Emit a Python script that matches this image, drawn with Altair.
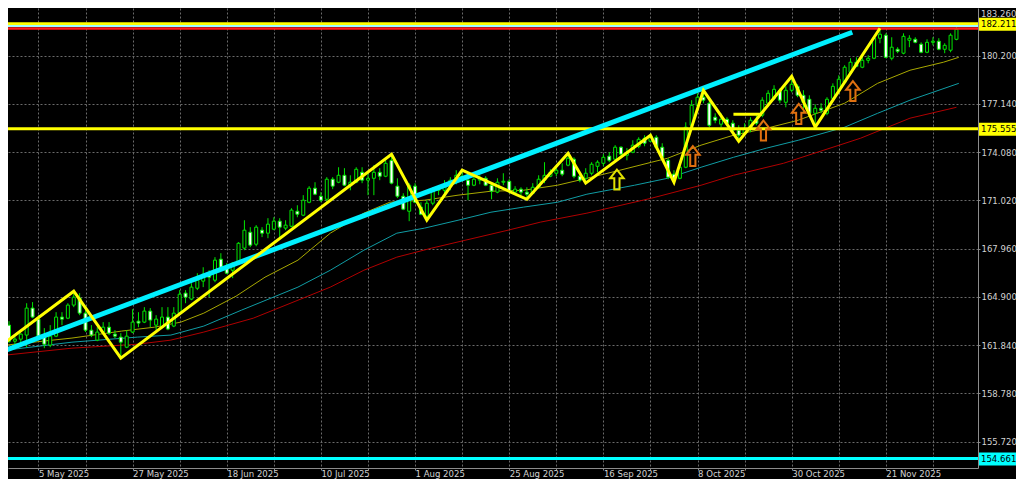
import altair as alt
import pandas as pd

# ---------------- data ----------------
OPEN = [163.11,162.09,162.22,162.48,164.19,163.49,162.41,161.84,162.41,163.62,
        163.55,164.38,164.82,163.87,162.79,162.16,162.67,162.98,162.54,162.35,
        161.71,162.67,163.36,163.30,164.00,163.11,162.98,163.62,163.05,163.87,
        165.14,164.76,165.45,165.90,166.40,165.96,167.29,166.72,166.59,167.10,
        167.99,169.00,168.24,169.13,168.94,169.19,169.70,169.26,169.38,170.33,
        170.08,170.90,171.79,171.28,171.09,172.36,172.17,172.61,171.98,172.17,
        172.80,172.30,172.42,172.80,172.55,173.56,171.92,171.28,170.33,171.92,
        170.59,170.02,170.84,171.66,171.66,171.92,172.30,172.55,172.30,171.98,
        172.30,172.42,171.98,171.54,172.17,172.23,171.54,171.73,171.54,171.47,
        171.85,172.30,172.55,172.74,172.93,173.25,173.63,172.55,172.42,172.74,
        173.18,173.37,173.82,173.63,174.39,173.88,174.07,174.45,174.96,174.77,
        175.02,174.39,173.56,172.68,172.42,173.12,175.78,177.05,177.56,177.18,
        176.29,175.85,176.16,175.91,175.47,175.28,175.59,176.10,176.42,177.18,
        177.49,178.00,177.24,178.00,178.25,177.68,177.43,176.54,176.86,176.54,
        177.49,178.00,178.51,179.14,179.78,179.46,179.90,180.03,181.30,181.49,
        180.03,180.60,180.35,181.17,181.23,180.92,180.41,181.04,181.11,180.60,
        180.54,181.23]
CLOSE = [162.09,162.22,162.54,164.19,163.62,162.41,161.90,162.41,163.62,163.49,
         164.38,164.88,163.87,162.79,162.48,162.67,162.98,162.60,162.41,162.03,
         162.41,163.30,163.24,164.00,163.43,163.49,163.62,162.86,163.87,165.07,
         164.88,165.52,165.96,166.34,166.15,167.23,166.78,166.40,167.04,168.30,
         169.13,168.18,169.32,168.94,169.51,169.70,169.32,169.45,170.40,170.14,
         171.03,171.79,171.41,171.03,172.36,171.92,172.61,171.98,172.17,172.99,
         172.30,172.42,172.80,172.55,173.37,172.11,171.28,170.46,171.98,170.90,
         170.14,170.84,171.73,171.73,171.98,172.30,172.61,172.30,171.98,172.36,
         172.42,171.98,171.60,172.17,172.23,171.60,171.73,171.54,171.41,171.85,
         172.36,172.61,172.80,172.93,172.68,173.69,172.55,172.30,172.74,173.31,
         173.44,173.75,173.56,174.39,173.95,174.07,174.52,174.89,174.64,175.09,
         174.39,173.75,172.49,172.42,173.12,175.66,177.05,177.56,177.37,175.78,
         176.10,176.16,175.91,175.47,175.15,175.59,176.10,175.91,177.37,177.81,
         178.06,177.37,178.00,178.38,177.68,177.24,176.54,176.86,176.73,177.43,
         178.25,178.70,179.46,179.78,179.52,179.90,180.03,181.30,181.55,180.09,
         180.73,180.47,181.42,181.30,181.04,180.41,181.04,181.11,180.60,180.85,
         181.49,181.87]
HIGH = [163.36,162.35,162.60,164.50,164.57,163.74,162.92,163.11,163.93,163.93,
        164.50,165.26,165.14,164.06,163.11,162.98,163.30,163.30,162.79,162.60,
        162.79,164.12,163.93,164.25,164.19,163.74,164.25,164.25,164.25,165.33,
        165.33,165.77,166.40,166.78,166.59,167.42,167.67,167.04,167.10,168.37,
        169.76,169.32,169.45,169.32,169.89,169.95,169.89,169.76,170.52,170.71,
        171.35,171.92,172.17,171.54,172.49,172.49,173.12,173.06,172.61,173.12,
        173.12,172.80,173.25,173.06,173.56,173.95,172.42,171.47,172.11,172.11,
        170.90,171.03,171.85,171.98,172.30,172.49,172.93,172.99,172.68,172.61,
        172.61,172.55,172.17,172.42,172.74,172.36,171.92,171.85,171.85,172.11,
        172.61,173.44,172.99,173.12,173.37,174.01,173.75,172.74,173.06,173.44,
        173.56,173.95,174.07,174.52,174.45,174.33,174.83,175.02,175.15,175.28,
        175.15,174.64,173.69,172.93,173.25,175.97,177.37,177.81,178.00,177.37,
        176.54,176.54,176.29,176.10,175.78,175.91,176.29,176.42,177.56,178.00,
        178.32,178.13,178.25,178.89,178.38,178.00,177.68,177.11,177.18,177.56,
        178.44,178.95,179.59,180.03,180.09,180.16,180.22,181.36,181.93,181.61,
        181.36,180.73,181.61,181.49,181.36,181.04,181.23,181.36,181.30,180.98,
        181.61,182.18]
LOW = [161.97,161.84,161.71,161.71,163.55,162.35,161.65,161.71,162.35,163.11,
       163.49,164.25,163.74,162.67,162.35,162.09,162.54,162.48,162.29,161.02,
       161.65,162.60,162.98,163.24,162.98,162.79,162.92,162.79,162.98,163.74,
       164.50,164.69,165.33,165.52,164.88,165.83,166.59,166.34,166.09,167.04,
       167.86,168.05,168.11,168.69,168.62,169.13,168.62,169.13,169.32,169.95,
       170.02,170.84,171.35,170.90,170.90,171.73,172.11,171.92,171.66,172.11,
       172.11,171.35,171.35,172.30,172.49,172.04,171.16,170.40,169.70,170.84,
       170.08,169.76,170.71,171.35,171.47,171.66,172.04,172.23,171.03,171.92,
       172.04,171.92,171.09,171.47,171.98,171.47,171.47,171.35,171.16,171.41,
       171.79,172.11,172.49,172.55,172.55,173.18,172.42,172.17,172.11,172.61,
       172.80,173.18,173.44,173.56,173.69,173.56,174.01,174.33,174.45,174.71,
       174.33,173.56,172.36,172.17,172.36,173.06,175.66,176.86,177.18,175.66,
       175.91,175.66,175.78,175.28,174.89,175.21,175.34,175.78,176.29,177.05,
       177.37,177.18,176.92,177.87,177.56,176.54,176.42,175.66,176.54,176.42,
       177.37,177.87,178.44,179.08,179.46,179.40,179.71,179.97,180.98,180.03,
       179.90,180.35,180.28,180.73,180.98,180.35,180.35,180.85,180.54,180.35,
       180.41,181.17]

# moving averages (bar index, price) read at sparse points
MA_FAST_I = [-0.6,10.7,19.1,24.7,29.2,33.1,38.6,43.5,49.1,54.6,60.3,64.7,70.6,76.3,
             81.9,87.4,93.2,98.2,103.8,109.2,111.9,117.6,123.1,128.7,134.1,142.0,
             147.6,153.1,158.8,161.4]
MA_FAST_V = [161.84,162.29,162.73,162.98,163.30,163.87,164.95,166.15,167.23,168.94,
             170.21,170.90,171.03,171.35,171.60,171.66,171.98,172.42,172.93,173.44,
             173.69,174.52,175.15,175.59,176.10,177.18,178.44,179.27,179.78,180.09]
MA_MID_I = [-0.6,10.7,21.8,27.5,33.1,39.5,49.1,54.6,60.3,65.9,70.6,76.3,81.9,87.4,
            93.2,98.2,106.3,111.9,117.6,123.1,128.7,134.1,142.0,147.6,153.1,161.4]
MA_MID_V = [161.52,162.03,162.35,162.48,163.05,164.06,165.52,166.59,167.86,168.94,
            169.26,169.76,170.27,170.59,170.90,171.41,171.98,172.42,173.12,173.75,
            174.33,174.83,175.66,176.54,177.37,178.44]
MA_SLOW_I = [-0.6,10.7,21.8,27.5,33.1,41.5,49.1,54.6,60.3,65.9,71.8,84.8,90.3,98.2,
             109.2,117.6,123.1,131.6,144.7,153.1,161.0]
MA_SLOW_V = [161.21,161.65,161.90,162.16,162.67,163.55,164.69,165.52,166.59,167.42,
             167.99,169.13,169.64,170.21,171.16,171.98,172.61,173.37,174.96,176.23,
             176.92]

ZIGZAG_I = [-3,11,19,65,71,77,88,95,98,109,113,118,124,133,137,148]
ZIGZAG_V = [161.36,165.26,161.02,173.94,169.76,172.93,171.09,174.01,172.11,175.15,
            172.17,178.00,174.77,178.89,175.66,181.93]

TREND_I = [-3, 143.3]
TREND_V = [161.18, 181.68]

SEG_I = [123.1, 127.9]
SEG_V = [176.48, 176.48]

ARROW_I = [103.3, 116.2, 128.2, 134.2, 143.4]
ARROW_V = [172.34, 173.83, 175.45, 176.50, 177.95]
ARROW_C = ["#e0e000", "#e07010", "#e07010", "#e07010", "#e07010"]

HLINE_V = [182.211, 182.07, 181.92, 175.555, 154.661]
HLINE_C = ["#ffff00", "#9ffcff", "#ff2020", "#ffff00", "#00ffff"]
HLINE_W = [3, 2, 2.5, 3, 3]

TAG_V = [182.211, 175.555, 154.661]
TAG_T = ["182.211", "175.555", "154.661"]
TAG_C = ["#ffff00", "#ffff00", "#00ffff"]

Y_TICKS = [155.72, 158.78, 161.84, 164.90, 167.96, 171.02, 174.08, 177.14, 180.20]
TOP_TICK_LABEL = ["183.260"]
GRID_BARS = list(range(5, 160, 8))
DATE_LABELS = ["5 May 2025", "27 May 2025", "18 Jun 2025", "10 Jul 2025", "1 Aug 2025",
               "25 Aug 2025", "16 Sep 2025", "8 Oct 2025", "30 Oct 2025", "21 Nov 2025"]

# ---------------- layout ----------------
W, H = 970, 460
RIGHT = 38
X_DOM = [0.677, 163.81]
Y_DOM = [154.052, 183.216]
FONT = "DejaVu Sans Condensed, DejaVu Sans"
GRID_C = "#6a6a6a"
AXIS_C = "#8c8c8c"
LABEL_C = "#d2d2d2"

candles = pd.DataFrame({"i": list(range(len(OPEN))), "open": OPEN, "close": CLOSE,
                        "high": HIGH, "low": LOW})
candles["bull"] = candles["close"] >= candles["open"]

ma = pd.concat([
    pd.DataFrame({"i": MA_FAST_I, "v": MA_FAST_V, "s": "fast", "c": "#a8a800"}),
    pd.DataFrame({"i": MA_MID_I, "v": MA_MID_V, "s": "mid", "c": "#109ca4"}),
    pd.DataFrame({"i": MA_SLOW_I, "v": MA_SLOW_V, "s": "slow", "c": "#b00000"}),
])
zig = pd.DataFrame({"i": ZIGZAG_I, "v": ZIGZAG_V})
trend = pd.DataFrame({"i": TREND_I, "v": TREND_V})
seg = pd.DataFrame({"i": SEG_I, "v": SEG_V})
arrows = pd.DataFrame({"i": ARROW_I, "v": ARROW_V, "c": ARROW_C})
hl = pd.DataFrame({"v": HLINE_V, "c": HLINE_C, "w": HLINE_W})
tags = pd.DataFrame({"v": TAG_V, "t": TAG_T, "c": TAG_C})
top_lbl = pd.DataFrame({"t": TOP_TICK_LABEL})

label_list = ",".join("'" + s + "'" for s in DATE_LABELS)
label_expr = f"datum.value % 16 == 5 ? [{label_list}][floor(datum.value / 16)] : ''"

xs = alt.Scale(domain=X_DOM, nice=False, zero=False)
ys = alt.Scale(domain=Y_DOM, nice=False, zero=False)

x_axis = alt.Axis(values=GRID_BARS, labelExpr=label_expr, orient="bottom", grid=True,
                  gridColor=GRID_C, gridDash=[2, 2], gridWidth=1, domainColor=AXIS_C,
                  tickColor=AXIS_C, tickSize=2, labelColor=LABEL_C, labelFont=FONT,
                  labelFontSize=9.5, labelAlign="left", labelBaseline="alphabetic",
                  labelPadding=6.3, labelOffset=0, labelOverlap=False, labelFlush=False,
                  title=None)
y_axis = alt.Axis(values=Y_TICKS, format=".3f", orient="right", grid=True,
                  gridColor=GRID_C, gridDash=[2, 2], gridWidth=1, domainColor=AXIS_C,
                  tickColor=AXIS_C, tickSize=2, labelColor=LABEL_C, labelFont=FONT,
                  labelFontSize=9.5, labelAlign="left", labelBaseline="middle",
                  labelPadding=1, labelOverlap=False, labelFlush=False, title=None)


def X(f):
    return alt.X(f, type="quantitative", scale=xs, axis=x_axis)


def Y(f):
    return alt.Y(f, type="quantitative", scale=ys, axis=y_axis)


ma_layer = alt.Chart(ma).mark_line(strokeWidth=1, clip=True).encode(
    x=X("i"), y=Y("v"), color=alt.Color("c:N", scale=None), detail="s:N")

wicks = alt.Chart(candles).mark_rule(color="#00e600", strokeWidth=1, clip=True).encode(
    x=X("i"), y=Y("low"), y2=alt.Y2("high"))

bodies = alt.Chart(candles).mark_bar(width=3, stroke="#00e600", strokeWidth=1,
                                     clip=True).encode(
    x=X("i"), y=Y("open"), y2=alt.Y2("close"),
    fill=alt.condition("datum.bull", alt.value("#000000"), alt.value("#ffffff")))

hlines = alt.Chart(hl).mark_rule().encode(
    y=Y("v"), color=alt.Color("c:N", scale=None),
    strokeWidth=alt.StrokeWidth("w:Q", scale=None))

trend_layer = alt.Chart(trend).mark_line(color="#00f0ff", strokeWidth=5, clip=True).encode(
    x=X("i"), y=Y("v"))

zig_layer = alt.Chart(zig).mark_line(color="#ffff00", strokeWidth=3, clip=True).encode(
    x=X("i"), y=Y("v"))

seg_layer = alt.Chart(seg).mark_line(color="#ffff00", strokeWidth=3, clip=True).encode(
    x=X("i"), y=Y("v"))

ARROW_PATH = "M0,-1 L0.68,-0.12 L0.26,-0.12 L0.26,1 L-0.26,1 L-0.26,-0.12 L-0.68,-0.12 Z"
arrow_layer = alt.Chart(arrows).mark_point(shape=ARROW_PATH, filled=False, size=400,
                                           strokeWidth=2, opacity=1).encode(
    x=X("i"), y=Y("v"), color=alt.Color("c:N", scale=None))

tag_rect = alt.Chart(tags).mark_rect(yOffset=-6, y2Offset=7).encode(
    x=alt.value(W + 1), x2=alt.value(W + RIGHT), y=Y("v"), y2=alt.Y2("v"),
    color=alt.Color("c:N", scale=None))

tag_text = alt.Chart(tags).mark_text(align="left", baseline="middle", font=FONT,
                                     fontSize=9.5, color="#000000", dy=0.5).encode(
    x=alt.value(W + 3), y=Y("v"), text="t:N")

top_text = alt.Chart(top_lbl).mark_text(align="left", baseline="top", font=FONT,
                                        fontSize=9.5, color=LABEL_C).encode(
    x=alt.value(W + 3), y=alt.value(1), text="t:N")

chart = alt.layer(ma_layer, wicks, bodies, hlines, trend_layer, zig_layer, seg_layer,
                  arrow_layer, tag_rect, tag_text, top_text).properties(
    width=W, height=H,
    autosize=alt.AutoSizeParams(type="none"),
    padding={"left": 0, "top": 0, "right": RIGHT, "bottom": 11},
    background="#000000",
).configure_view(stroke=None)

chart.save("out.html", embed_options={"renderer": "svg", "actions": False})
